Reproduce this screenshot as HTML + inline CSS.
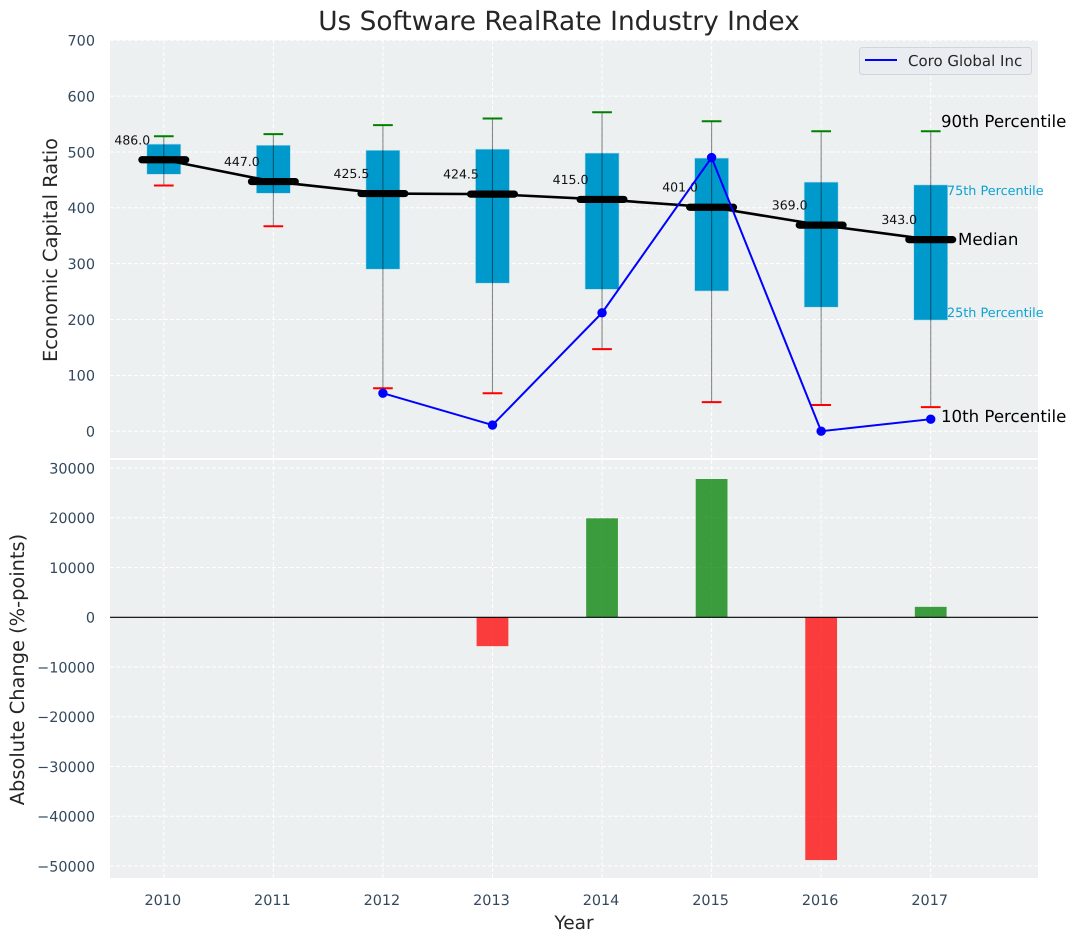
<!DOCTYPE html>
<html lang="en">
<head>
<meta charset="utf-8">
<title>Us Software RealRate Industry Index</title>
<style>
html,body{margin:0;padding:0;background:#fff;}
#chart{display:block;width:1076px;height:942px;font-family:"DejaVu Sans","Liberation Sans",sans-serif;text-rendering:geometricPrecision;}
</style>
</head>
<body>
<svg id="chart" xmlns="http://www.w3.org/2000/svg" width="1076" height="942" viewBox="0 0 1076 942">
  <rect x="110" y="40" width="928" height="418" fill="#ecf0f1"/>
  <rect x="110" y="460" width="928" height="418" fill="#ecf0f1"/>
  <g id="grid"></g>
  <g id="boxes"></g>
  <g id="bars"></g>
  <text x="559" y="30" font-size="26.4" fill="#262626" text-anchor="middle">Us Software RealRate Industry Index</text>
  <text transform="translate(57,250) rotate(-90)" font-size="19.4" fill="#262626" text-anchor="middle">Economic Capital Ratio</text>
  <text transform="translate(24,669.5) rotate(-90)" font-size="19.4" fill="#262626" text-anchor="middle">Absolute Change (%-points)</text>
  <text x="574" y="929" font-size="18.6" fill="#262626" text-anchor="middle">Year</text>
  <g>
    <rect x="859.5" y="47.5" width="172" height="27" rx="3" fill="#e9ecf1" stroke="#d2d5d8" stroke-width="1"/>
    <line x1="865" y1="60" x2="897" y2="60" stroke="#0000ff" stroke-width="2"/>
    <text x="908" y="66" font-size="15" fill="#262626">Coro Global Inc</text>
  </g>
  <text x="941" y="127" font-size="16.6" fill="#000">90th Percentile</text>
  <text x="947" y="195" font-size="12.8" fill="#0da2d2">75th Percentile</text>
  <text x="958" y="245" font-size="16.6" fill="#000">Median</text>
  <text x="947" y="317" font-size="12.8" fill="#0da2d2">25th Percentile</text>
  <text x="941" y="422" font-size="16.6" fill="#000">10th Percentile</text>
</svg>
<script>
const years = [2010, 2011, 2012, 2013, 2014, 2015, 2016, 2017];
const p90 = [528, 532, 548, 560, 571, 555, 537, 537];
const p75 = [514, 512, 503, 505, 498, 489, 446, 441];
const medians = [486, 447, 425.5, 424.5, 415, 401, 369, 343];
const p25 = [460, 426, 290, 265, 254, 251, 222, 199];
const p10 = [440, 367, 77, 68, 147, 52, 47, 43];
const companyYears = [2012, 2013, 2014, 2015, 2016, 2017];
const companyValues = [68, 11, 212, 490, 0, 21.5];
const changeYears = [2013, 2014, 2015, 2016, 2017];
const changeValues = [-5800, 19900, 27800, -48800, 2100];
const topTicks = [0, 100, 200, 300, 400, 500, 600, 700];
const bottomTicks = [-50000, -40000, -30000, -20000, -10000, 0, 10000, 20000, 30000];

const NS = 'http://www.w3.org/2000/svg';
const xPos = v => 163.8 + (v - 2010) * 109.56;
const yTop = v => 431.2 - v * 0.5585;
const yBottom = v => 617.3 - v * 0.004975;
const boxW = 0.31;
const barW = 0.29;
const capW = 0.09;
const medW = 0.4;

function make(parent, tag, attrs) {
  const el = document.createElementNS(NS, tag);
  for (const k in attrs) el.setAttribute(k, attrs[k]);
  parent.appendChild(el);
  return el;
}
function hline(parent, x1, x2, y, stroke, w) {
  return make(parent, 'line', {x1: x1, x2: x2, y1: y, y2: y, stroke: stroke, 'stroke-width': w});
}
function vline(parent, x, y1, y2, stroke, w) {
  return make(parent, 'line', {x1: x, x2: x, y1: y1, y2: y2, stroke: stroke, 'stroke-width': w});
}
function fmtTick(v) {
  return v < 0 ? '\u2212' + Math.abs(v) : String(v);
}

const grid = document.getElementById('grid');
const boxes = document.getElementById('boxes');
const bars = document.getElementById('bars');

years.forEach(yr => {
  const g1 = vline(grid, xPos(yr), 40, 458, '#fff', 1);
  g1.setAttribute('stroke-dasharray', '4 2');
  
  
  const g2 = vline(grid, xPos(yr), 460, 878, '#fff', 1);
  g2.setAttribute('stroke-dasharray', '4 2');
  
  
  const t = make(grid, 'text', {x: xPos(yr) - 1, y: 905, 'font-size': 14.4, fill: '#34495e', 'text-anchor': 'middle'});
  t.textContent = yr;
  
  
});
topTicks.forEach(v => {
  const g = hline(grid, 110, 1038, yTop(v), '#fff', 1);
  g.setAttribute('stroke-dasharray', '4 2');
  
  
  const t = make(grid, 'text', {x: 95, y: yTop(v) + 5.3, 'font-size': 14.4, fill: '#34495e', 'text-anchor': 'end'});
  t.textContent = fmtTick(v);
  
  
});
bottomTicks.forEach(v => {
  const g = hline(grid, 110, 1038, yBottom(v), '#fff', 1);
  g.setAttribute('stroke-dasharray', '4 2');
  
  
  const t = make(grid, 'text', {x: 95, y: yBottom(v) + 5.3, 'font-size': 14.4, fill: '#34495e', 'text-anchor': 'end'});
  t.textContent = fmtTick(v);
  
  
});

/* boxes */
years.forEach((yr, i) => {
  const b = make(boxes, 'rect', {
    x: xPos(yr) - boxW / 2 * 109.56,
    y: yTop(p75[i]),
    width: boxW * 109.56,
    height: yTop(p25[i]) - yTop(p75[i]),
    fill: '#0099cc',
    stroke: '#b5dcea',
    'stroke-width': 0.6
  });
  
  
});
/* whiskers and caps */
years.forEach((yr, i) => {
  const w = vline(boxes, xPos(yr), yTop(p90[i]), yTop(p10[i]), '#000', 1.1);
  w.setAttribute('stroke-opacity', '0.45');
  
  
  const hi = hline(boxes, xPos(yr - capW), xPos(yr + capW), yTop(p90[i]), '#008000', 2);
  
  
  const lo = hline(boxes, xPos(yr - capW), xPos(yr + capW), yTop(p10[i]), '#ff0000', 2);
  
  
});
/* median connecting line */
const medLine = make(boxes, 'polyline', {
  points: years.map((yr, i) => xPos(yr) + ',' + yTop(medians[i])).join(' '),
  fill: 'none', stroke: '#000', 'stroke-width': 2.6
});


/* median dashes and labels */
years.forEach((yr, i) => {
  const m = hline(boxes, xPos(yr - medW / 2), xPos(yr + medW / 2), yTop(medians[i]), '#000', 7.2);
  m.setAttribute('stroke-linecap', 'round');
  
  
  const t = make(boxes, 'text', {x: xPos(yr) - 31.5, y: yTop(medians[i]) - 15.5, 'font-size': 12.5, fill: '#111', 'text-anchor': 'middle'});
  t.textContent = medians[i].toFixed(1);
  
  
});
/* company series */
const coLine = make(boxes, 'polyline', {
  points: companyYears.map((yr, i) => xPos(yr) + ',' + yTop(companyValues[i])).join(' '),
  fill: 'none', stroke: '#0000ff', 'stroke-width': 2
});


companyYears.forEach((yr, i) => {
  const c = make(boxes, 'circle', {cx: xPos(yr), cy: yTop(companyValues[i]), r: 4.7, fill: '#0000ff'});
  
  
});
/* change bars */
changeYears.forEach((yr, i) => {
  const v = changeValues[i];
  const r = make(bars, 'rect', {
    x: xPos(yr) - barW / 2 * 109.56,
    y: Math.min(yBottom(v), yBottom(0)),
    width: barW * 109.56,
    height: Math.abs(yBottom(v) - yBottom(0)),
    fill: v >= 0 ? '#008000' : '#ff0000',
    'fill-opacity': 0.75
  });
  
  
});
const zero = hline(bars, 110, 1038, yBottom(0), '#000', 1.1);


</script>
</body>
</html>
